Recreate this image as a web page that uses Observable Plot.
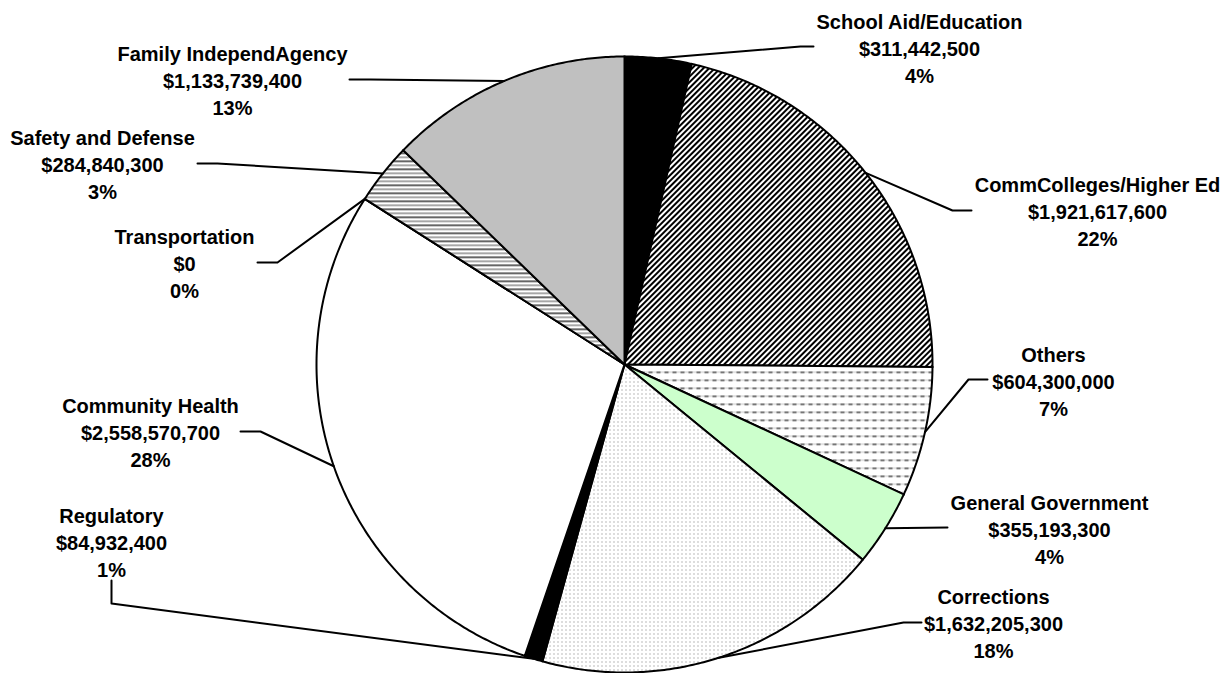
<!DOCTYPE html>
<html><head><meta charset="utf-8">
<script src="https://cdn.jsdelivr.net/npm/d3@7"></script>
<script src="https://cdn.jsdelivr.net/npm/@observablehq/plot@0.6"></script>
<style>html,body{margin:0;padding:0;background:#fff} svg{display:block}</style>
</head><body><div id="chart"></div>
<script>
// ---- data ----
const categories = ["School Aid/Education","CommColleges/Higher Ed","Others","General Government","Corrections","Regulatory","Community Health","Transportation","Safety and Defense","Family IndependAgency"];
const amounts = [311442500,1921617600,604300000,355193300,1632205300,84932400,2558570700,0,284840300,1133739400];
const percentLabels = ["4%","22%","7%","4%","18%","1%","28%","0%","3%","13%"];

// ---- styles ----
const sliceFills = ["black","url(#pDiag)","url(#pDash)","#ccffcc","url(#pDots)","black","white","white","url(#pHLines)","#c0c0c0"];

// ---- layout ----
const W = 1228, H = 673, CX = 624, CY = 364, R = 308;
const labelPos = [[919,47],[1097,210],[1053,380],[1049,528],[993,622],[111,541],[150,431],[184,262],[102,163],[232,79]];
const leaderBends = [
  [[800,46],[813,46]],
  [[952,210],[971,210]],
  [[968,379],[987,379]],
  [[947,527]],
  [[903,622],[921,622]],
  [[111,603],[111,580]],
  [[260,431],[240,431]],
  [[277,262],[257,262]],
  [[217,163],[197,163]],
  [[370,79],[349,79]]
];

const arcs = d3.pie().sort(null).value(d => d)(amounts);
const fmt = d3.format(",");

const slicePts = [];
arcs.forEach((a, i) => {
  const name = categories[i], fill = sliceFills[i];
  slicePts.push({name, fill, x: CX, y: CY});
  const n = Math.max(2, Math.ceil((a.endAngle - a.startAngle) / (Math.PI / 360)));
  for (let k = 0; k <= n; k++) {
    const t = a.startAngle + (a.endAngle - a.startAngle) * k / n;
    slicePts.push({name, fill, x: CX + R * Math.sin(t), y: CY - R * Math.cos(t)});
  }
  slicePts.push({name, fill, x: CX, y: CY});
});

const leaderPts = [];
arcs.forEach((a, i) => {
  const m = (a.startAngle + a.endAngle) / 2;
  const name = categories[i];
  leaderPts.push({name, x: CX + R * Math.sin(m), y: CY - R * Math.cos(m)});
  leaderBends[i].forEach(([x, y]) => leaderPts.push({name, x, y}));
});

const labels = categories.map((c, i) => ({
  x: labelPos[i][0], y: labelPos[i][1],
  text: c + "\n$" + fmt(amounts[i]) + "\n" + percentLabels[i]
}));

const chart = Plot.plot({
  width: W, height: H,
  margin: 0,
  x: {domain: [0, W], range: [0, W], axis: null},
  y: {domain: [0, H], range: [0, H], axis: null},
  color: {type: "identity"},
  style: {background: "white"},
  marks: [
    Plot.line(slicePts, {x: "x", y: "y", z: "name", fill: "fill", stroke: "black", strokeWidth: 2, curve: "linear", strokeLinejoin: "miter", strokeMiterlimit: 4}),
    Plot.line(leaderPts, {x: "x", y: "y", z: "name", stroke: "black", strokeWidth: 2, curve: "linear"}),
    Plot.text(labels, {x: "x", y: "y", text: "text", fontSize: 20, fontWeight: "bold", lineHeight: 1.33, fontFamily: "Arial, 'Liberation Sans', sans-serif", fill: "black"})
  ]
});

d3.select(chart).insert("defs", ":first-child").html(`
  <pattern id="pDiag" width="4" height="4" patternUnits="userSpaceOnUse" patternTransform="rotate(45)">
    <rect width="4" height="4" fill="white"/><rect width="2" height="4" fill="black"/>
  </pattern>
  <pattern id="pDash" width="8" height="8" patternUnits="userSpaceOnUse">
    <rect width="8" height="8" fill="white"/>
    <rect x="0" y="3" width="4" height="1.6" fill="#555"/>
    <rect x="4" y="3" width="4" height="1.2" fill="#cfcfcf"/>
  </pattern>
  <pattern id="pDots" width="4" height="4" patternUnits="userSpaceOnUse">
    <rect width="4" height="4" fill="white"/>
    <rect x="1" y="1" width="1" height="1" fill="#777"/>
  </pattern>
  <pattern id="pHLines" width="4" height="8" patternUnits="userSpaceOnUse">
    <rect width="4" height="8" fill="white"/>
    <rect y="0" width="4" height="1.5" fill="#333"/>
    <rect y="4" width="4" height="1.5" fill="#8a8a8a"/>
  </pattern>
`);

document.getElementById("chart").appendChild(chart);
</script>
</body></html>
